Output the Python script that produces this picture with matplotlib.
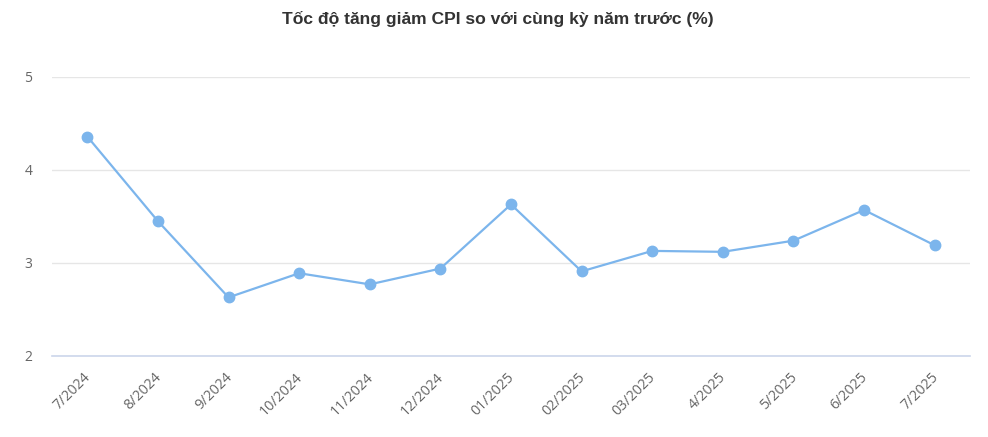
import matplotlib
matplotlib.use("Agg")
import matplotlib.pyplot as plt
import matplotlib.transforms as mtransforms

months = ["7/2024", "8/2024", "9/2024", "10/2024", "11/2024", "12/2024",
          "01/2025", "02/2025", "03/2025", "4/2025", "5/2025", "6/2025", "7/2025"]
cpi_yoy = [4.36, 3.45, 2.63, 2.89, 2.77, 2.94, 3.63, 2.91, 3.13, 3.12, 3.24, 3.57, 3.19]
y_ticks = [2, 3, 4, 5]

fig = plt.figure(figsize=(9.88, 4.37), dpi=100)
ax = fig.add_axes([0.0526, 0.1854, 0.9292, 0.6384])

x = list(range(len(months)))
ax.plot(x, cpi_yoy, "-o", color="#7cb5ec", lw=1.6, ms=7.5, zorder=3)

ax.set_xlim(-0.5, len(months) - 0.5)
ax.set_ylim(2, 5)
ax.set_yticks(y_ticks)
ax.set_yticklabels([str(t) for t in y_ticks], fontsize=10, color="#666666",
                   family="Open Sans")
ax.set_xticks(x)
ax.set_xticklabels(months, rotation=45, ha="right", rotation_mode="anchor",
                   fontsize=10.3, color="#666666", family="Open Sans")
ax.tick_params(axis="y", length=0, pad=14)
ax.tick_params(axis="x", length=0, pad=10)
# nudge the rotated labels a few pixels left, like the original
shift = mtransforms.ScaledTranslation(-4 / 100, 0, fig.dpi_scale_trans)
for lab in ax.get_xticklabels():
    lab.set_transform(lab.get_transform() + shift)

ax.grid(axis="y", color="#e6e6e6", lw=1)
ax.set_axisbelow(True)
for side in ("top", "right", "left"):
    ax.spines[side].set_visible(False)
ax.spines["bottom"].set_color("#ccd6eb")
ax.spines["bottom"].set_linewidth(1.2)

fig.text(0.504, 0.956, "Tốc độ tăng giảm CPI so với cùng kỳ năm trước (%)",
         ha="center", va="center", fontsize=12.6, fontweight="bold",
         color="#333333", family="Liberation Sans")

fig.savefig("out.png", dpi=100)
